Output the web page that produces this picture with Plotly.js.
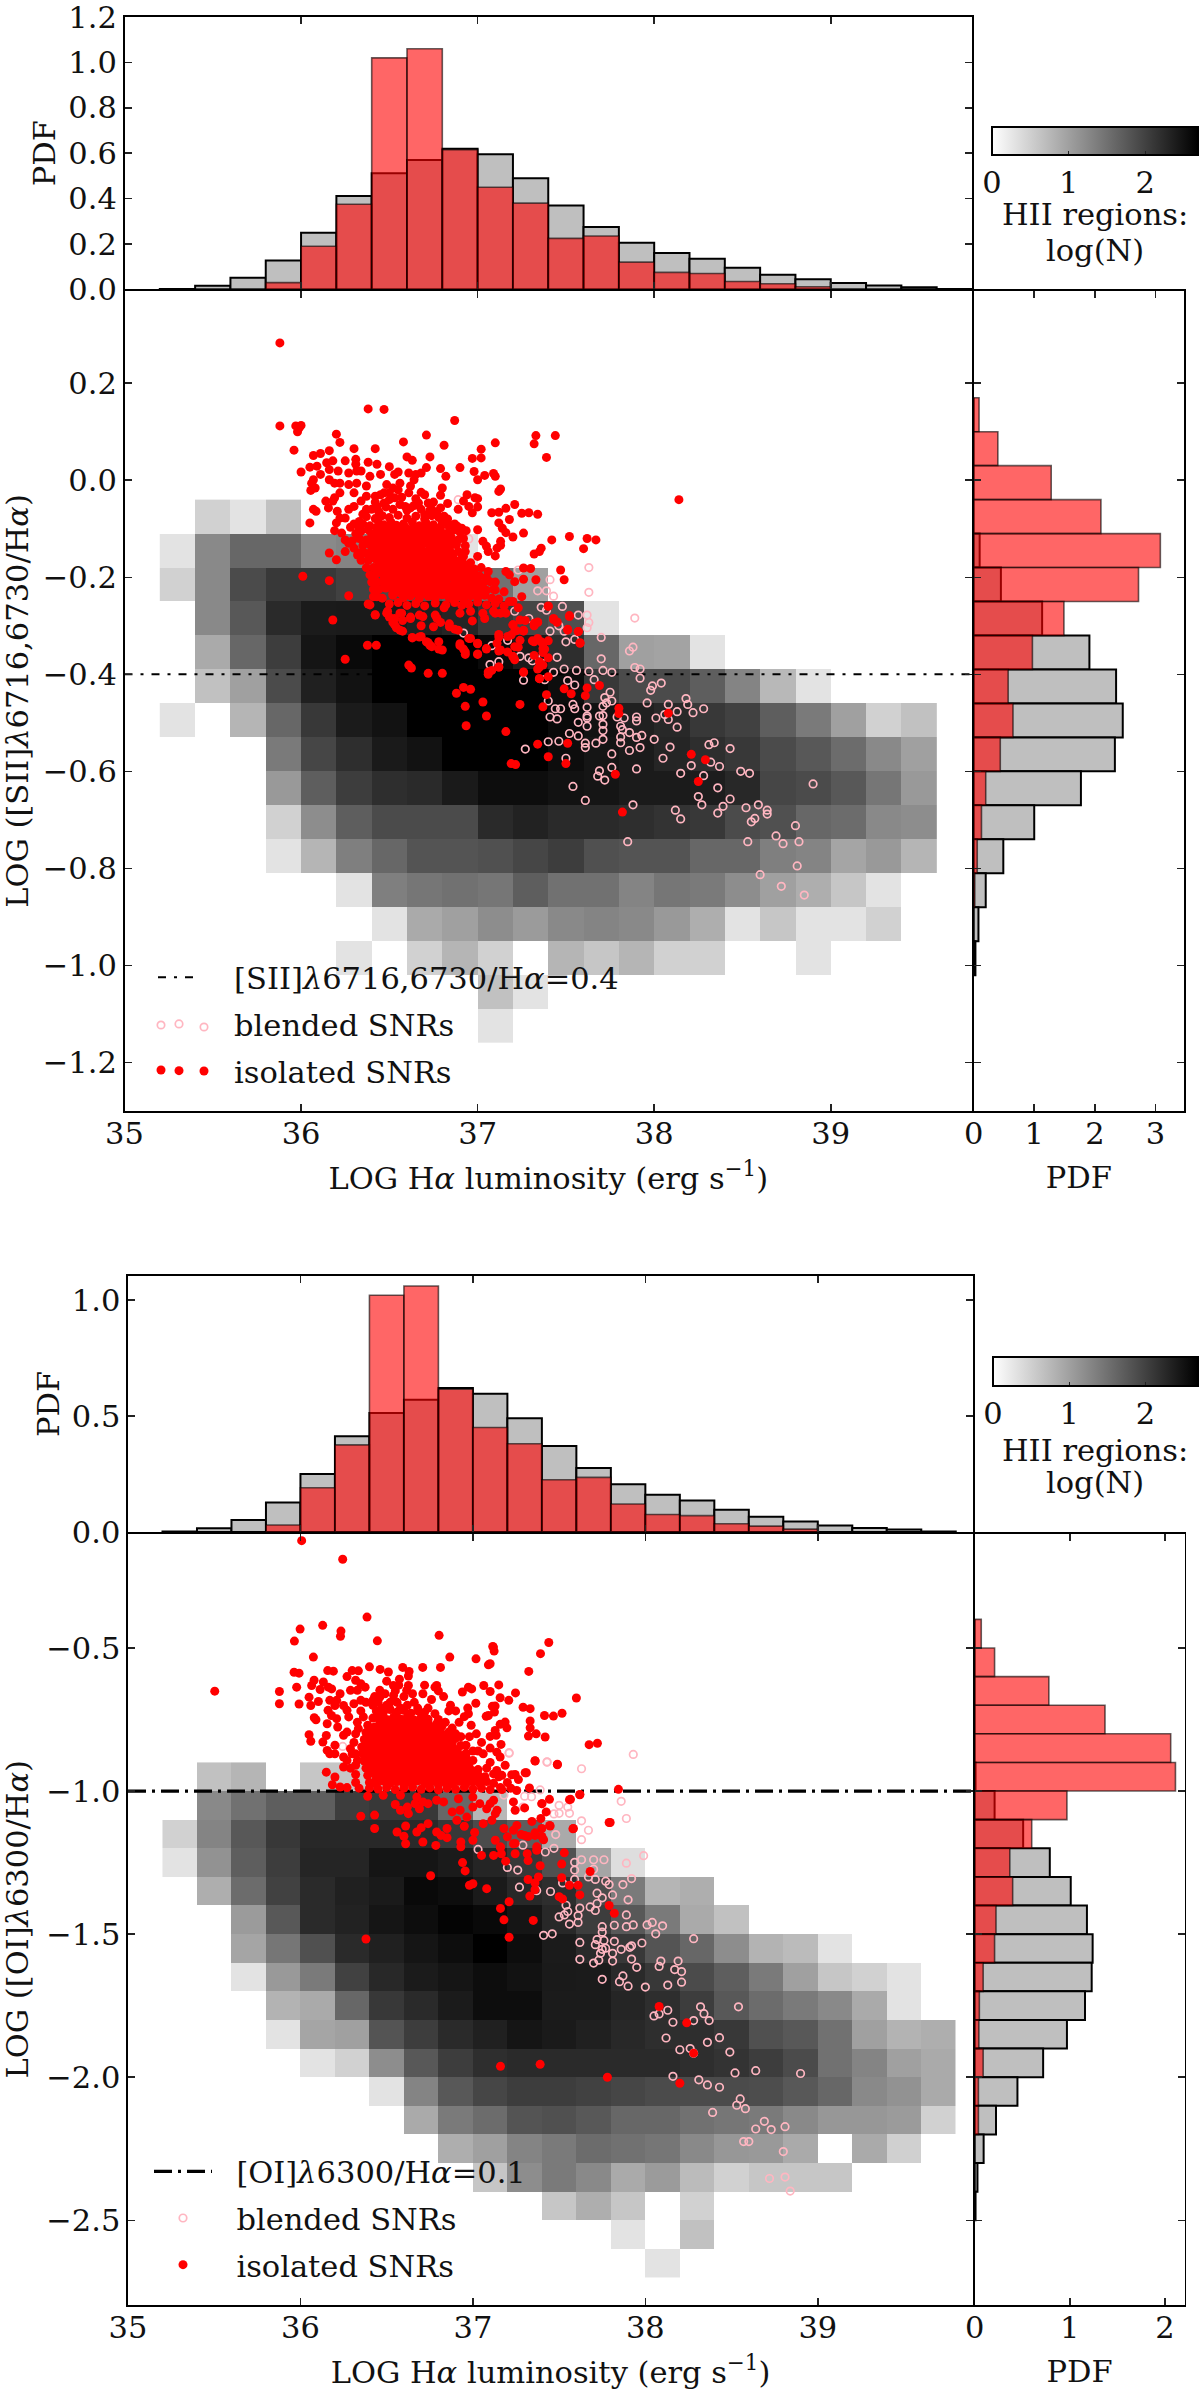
<!DOCTYPE html>
<html><head><meta charset="utf-8"><script src="https://cdn.plot.ly/plotly-3.0.1.min.js"></script>
<style>html,body{margin:0;padding:0;background:#fff}#c{width:1200px;height:2394px}</style></head>
<body><div id="c"></div><script>
const heatX1=[35.2,35.4,35.6,35.8,36,36.2,36.4,36.6,36.8,37,37.2,37.4,37.6,37.8,38,38.2,38.4,38.6,38.8,39,39.2,39.4,39.6];
const heatY1=[-0.04,-0.11,-0.18,-0.25,-0.32,-0.39,-0.46,-0.53,-0.60,-0.67,-0.74,-0.81,-0.88,-0.95,-1.02,-1.09,-1.16];
const n=null;
const heatZ1=[
[n,.48,.3,.65,n,n,n,n,n,n,n,n,n,n,n,n,n,n,n,n,n,n],
[.3,1.25,1.6,1.6,1.25,1.3,1,.85,.3,n,n,n,n,n,n,n,n,n,n,n,n,n],
[.48,1.25,1.9,2.1,2.1,2,1.9,1.8,1.7,1.5,1,n,n,n,n,n,n,n,n,n,n,n],
[n,1.25,1.76,2.25,2.4,2.42,2.42,2.35,2.3,2.1,1.95,1.85,.3,n,n,n,n,n,n,n,n,n],
[n,.9,1.6,2.05,2.47,2.6,2.69,2.69,2.69,2.6,2.42,2.2,1.6,1,.97,.3,n,n,n,n,n,n],
[n,.65,1,1.9,2.35,2.5,2.69,2.69,2.69,2.69,2.69,2.55,2.1,1.9,1.9,1.7,1.3,.75,.3,n,n,n],
[.3,n,.78,1.6,2.1,2.4,2.5,2.69,2.69,2.69,2.69,2.6,2.5,2.35,2.27,2.1,2,1.7,1.4,1,.48,.65],
[n,n,n,1.4,1.95,2.2,2.42,2.5,2.69,2.69,2.69,2.55,2.47,2.4,2.3,2.2,2.1,1.9,1.76,1.55,1.25,1],
[n,n,n,1.08,1.7,2.05,2.2,2.25,2.42,2.55,2.55,2.5,2.47,2.4,2.4,2.38,2.27,1.95,1.9,1.76,1.45,1.08],
[n,n,n,.48,1.2,1.7,1.9,1.9,1.9,2.25,2.33,2.25,2.25,2.2,2.15,2.1,1.9,1.85,1.6,1.55,1.25,1.2],
[n,n,n,.3,.78,1.35,1.6,1.8,1.8,1.85,1.95,2.05,1.85,1.8,1.8,1.6,1.6,1.35,1.3,.95,1.08,.78],
[n,n,n,n,n,.3,1.35,1.45,1.5,1.45,1.7,1.5,1.5,1.3,1.45,1.4,1.2,1,.85,.6,.3,n],
[n,n,n,n,n,n,.3,.9,1,1.2,1.05,1.25,1.3,1.25,1.08,.85,.3,.6,.3,.3,.48,n],
[n,n,n,n,n,.3,n,.48,.78,.48,n,.78,.6,.78,.48,.48,n,n,.3,n,n,n],
[n,n,n,n,n,n,n,n,n,.65,.3,n,n,n,n,n,n,n,n,n,n,n],
[n,n,n,n,n,n,n,n,n,.3,n,n,n,n,n,n,n,n,n,n,n,n]];
const heatX2=[35.2,35.4,35.6,35.8,36,36.2,36.4,36.6,36.8,37,37.2,37.4,37.6,37.8,38,38.2,38.4,38.6,38.8,39,39.2,39.4,39.6,39.8];
const heatY2=[-0.9,-1,-1.1,-1.2,-1.3,-1.4,-1.5,-1.6,-1.7,-1.8,-1.9,-2,-2.1,-2.2,-2.3,-2.4,-2.5,-2.6,-2.7];
const heatZ2=[
[n,.65,.78,n,.6,.6,.65,.8,.6,n,n,n,n,n,n,n,n,n,n,n,n,n,n],
[n,1.25,1.5,1.7,1.7,2.05,2.1,2.1,1.6,.75,n,n,n,n,n,n,n,n,n,n,n,n,n],
[.48,1.3,1.76,2.1,2.27,2.27,2.27,2.25,2.1,1.9,1.7,.9,n,n,n,n,n,n,n,n,n,n,n],
[.3,1.15,1.7,2.05,2.3,2.3,2.47,2.47,2.4,2.3,2.1,1.85,.95,.35,n,n,n,n,n,n,n,n,n],
[n,.85,1.55,2,2.25,2.35,2.42,2.6,2.55,2.42,2.27,2.2,1.9,1.4,.78,.85,n,n,n,n,n,n,n],
[n,n,1.05,1.76,2.25,2.33,2.47,2.55,2.65,2.6,2.47,2.27,2.05,1.76,1.4,.9,.65,n,n,n,n,n,n],
[n,n,.95,1.45,1.85,2.25,2.35,2.47,2.55,2.69,2.55,2.4,2.25,2.1,1.8,1.6,1.2,.8,.72,.3,n,n,n],
[n,n,.3,1.08,1.4,2,2.27,2.4,2.47,2.55,2.5,2.42,2.4,2.25,2.1,1.9,1.7,1.4,1,.6,.48,.3,n],
[n,n,n,.8,.9,1.6,2.1,2.25,2.4,2.55,2.55,2.4,2.4,2.3,2.2,2.05,1.76,1.55,1.4,1.25,.9,.3,n],
[n,n,n,.3,.95,1,1.8,2.05,2.25,2.35,2.47,2.42,2.35,2.27,2.2,2.2,2.1,1.85,1.76,1.5,1,.8,.85],
[n,n,n,n,.3,.48,1.2,1.76,2.05,2.2,2.25,2.25,2.25,2.25,2.25,2.2,2.15,2.05,1.9,1.5,1.3,1,.9],
[n,n,n,n,n,n,.3,1.3,1.76,1.95,2.05,2.05,2,1.95,1.9,1.9,1.9,1.88,1.76,1.6,1.25,1.15,.9],
[n,n,n,n,n,n,n,.9,1.4,1.55,1.8,1.85,1.76,1.6,1.6,1.5,1.45,1.4,1.25,1.1,1.1,1.05,.48],
[n,n,n,n,n,n,n,n,.85,1,1.3,1.4,1.55,1.5,1.45,1.25,1.1,1.08,.9,n,.9,.5,n],
[n,n,n,n,n,n,n,n,n,.6,1.2,1.4,1.25,.9,1.05,.72,.48,.6,.6,.6,n,n,n],
[n,n,n,n,n,n,n,n,n,n,n,.6,.85,.6,n,.48,n,n,n,n,n,n,n],
[n,n,n,n,n,n,n,n,n,n,n,n,n,.3,n,.65,n,n,n,n,n,n,n],
[n,n,n,n,n,n,n,n,n,n,n,n,n,n,.3,n,n,n,n,n,n,n,n]];
const lumBins=[35.2,35.4,35.6,35.8,36,36.2,36.4,36.6,36.8,37,37.2,37.4,37.6,37.8,38,38.2,38.4,38.6,38.8,39,39.2,39.4,39.6];
const lumHII=[.002,.016,.051,.127,.25,.412,.512,.57,.62,.595,.49,.37,.275,.205,.16,.135,.095,.065,.045,.028,.017,.01,.002];
const lumSNR=[0,0,0,.03,.19,.375,1.02,1.06,.615,.45,.38,.225,.235,.12,.075,.07,.035,.025,.012,0,0,0,0];
const siiBins=[.17,.10,.03,-.04,-.11,-.18,-.25,-.32,-.39,-.46,-.53,-.60,-.67,-.74,-.81,-.88,-.95];
const siiHII=[0,0,0,0,.10,.45,1.13,1.91,2.35,2.46,2.33,1.77,1,.49,.2,.08,.03];
const siiSNR=[.09,.40,1.28,2.10,3.08,2.72,1.49,.97,.57,.65,.44,.2,.13,.06,.02,0,0];
const oiBins=[-.4,-.5,-.6,-.7,-.8,-.9,-1,-1.1,-1.2,-1.3,-1.4,-1.5,-1.6,-1.7,-1.8,-1.9,-2,-2.1,-2.2,-2.3,-2.4];
const oiHII=[0,0,0,0,0,.01,.21,.51,.79,1.01,1.18,1.24,1.23,1.16,.97,.72,.45,.225,.095,.03,.01];
const oiSNR=[.07,.21,.78,1.37,2.06,2.11,.97,.6,.37,.40,.225,.21,.09,.05,.045,.09,.04,.04,0,0,0];
const isoSII=[[35.88,.283],[35.88,.112],[35.97,.112],[35.99,.108],[36,.113],[35.98,.1],[36.38,.147],[36.47,.146],[36.87,.123],[36.2,.095],[36.22,.078],[35.96,.062],[36.3,.065],[36.16,.061],[36.42,.065],[36.58,.079],[36.71,.093],[36.81,.072],[37.1,.077],[37.02,.064],[36.97,.045],[37.02,.046],[37.33,.092],[37.32,.075],[37.44,.092],[37.39,.047],[36.6,.048],[36.63,.041],[36.73,.048],[36.9,.026],[36.79,.024],[36.82,.008],[36,.017],[36.07,.051],[36.11,.055],[36.05,.027],[36.25,.04],[36.31,.043],[36.31,.033],[36.38,.037],[36.43,.033],[36.5,.028],[36.55,.017],[36.98,.018],[37,.001],[37.04,.01],[37.09,.014],[37.1,.008],[37.13,-.018],[37.12,-.023],[36.94,-.03],[37,-.038],[36.79,-.031],[36.8,-.016],[36.68,-.025],
[36.09,.029],[36.145,.036],[36.18,.04],[36.16,.022],[36.21,.019],[36.07,.001],[36.11,.012],[36.06,-.006],[36.08,-.016],[36.055,-.021],[36.16,.001],[36.19,-.006],[36.22,-.006],[36.27,.015],[36.315,.019],[36.34,.019],[36.39,.008],[36.45,.012],[36.53,.012],[36.61,.015],[36.65,.012],[36.68,.015],[36.71,.026],[36.64,.001],[36.485,-.009],[36.52,-.016],[36.37,-.012],[36.315,-.006],[36.27,-.009],[36.22,-.026],[36.19,-.036],[36.18,-.043],[36.14,-.043],[36.155,-.057],[36.07,-.06],[36.085,-.064],[36.05,-.088],[36.205,-.064],[36.22,-.078],[36.25,-.078],[36.2,-.088],[36.27,-.06],[36.3,-.054],[36.28,-.097],[36.23,-.109],[36.19,-.104],[36.34,-.043],[36.37,-.033],[36.42,-.033],[36.47,-.026],[36.47,-.047],[36.53,-.036],[36.61,-.026],[36.62,-.057],[36.665,-.047],[36.72,-.047],[36.75,-.045],[36.83,-.048],[36.79,-.057],[36.7,-.071],[36.81,-.074],[36.835,-.094],[36.885,-.095],[36.91,-.099],[36.935,-.104],[36.89,-.06],[36.92,-.043],[36.95,-.054],[36.97,-.067],[37,-.055],[36.985,-.036],[36.5,-.026],[36.56,-.006],[36.59,-.054],[36.43,-.054],[36.37,-.06],[36.3,-.026],[36.16,-.15],[36.2,-.164],[36.25,-.147],[36.32,-.154],[36.27,-.13],[36.25,-.123],[36.33,-.099],
[37.08,-.067],[37.12,-.066],[37.16,-.058],[37.21,-.05],[37.25,-.068],[37.29,-.067],[37.34,-.07],[37.18,-.081],[37.12,-.088],[37.14,-.099],[37.16,-.108],[37.2,-.117],[37.26,-.109],[37.13,-.126],[37.13,-.134],[37.11,-.14],[37.1,-.156],[37.05,-.136],[37.03,-.126],[37,-.102],[37.06,-.147],[37.42,-.123],[37.52,-.116],[37.62,-.12],[37.67,-.123],[37.6,-.141],[37.36,-.14],[37.35,-.147],[37.32,-.152],[37.47,-.185],[37.49,-.205],[37.33,-.205],[37.26,-.181],[37.3,-.182],[37.16,-.188],[37.18,-.195],[37.06,-.188],[37,-.157],[36.93,-.147],[36.92,-.157],[37.15,-.23],[37.1,-.226],[37.26,-.204],[37.21,-.209],[37.25,-.24],[37.2,-.25],[37.4,-.26],[37.52,-.281],[37.43,-.287],[37.45,-.292],[37.32,-.295],[37.34,-.292],[37.51,-.309],[37.57,-.312],[37.58,-.336],[37.4,-.331],[37.36,-.333],[37.37,-.347],[37.34,-.326],[37.31,-.331],[37.26,-.309],[37.22,-.31],[37.19,-.319],[37.2,-.364],[37.12,-.323],[37.11,-.336],[37.13,-.35],[37.17,-.354],[37.21,-.343],[37.24,-.288],[37.2,-.298],[37.32,-.361],[37.35,-.374],[37.35,-.385],[37.26,-.395],[37.35,-.409],[37.4,-.405],[37.12,-.385],[37.06,-.395],[37.05,-.347],[37,-.358],[37,-.336],[36.95,-.326],
[36.38,-.255],[36.42,-.277],[36.485,-.274],[36.53,-.285],[36.57,-.274],[36.62,-.285],[36.53,-.298],[36.56,-.309],[36.63,-.325],[36.67,-.323],[36.72,-.335],[36.74,-.343],[36.78,-.333],[36.8,-.35],[36.9,-.341],[36.93,-.354],[36.69,-.281],[36.77,-.285],[36.84,-.302],[36.75,-.302],[36.89,-.309],[36.97,-.29],[37.04,-.285],[37.1,-.274],[37.16,-.274],
[36.01,-.198],[36.16,-.207],[36.27,-.238],[36.18,-.288],[36.376,-.34],[36.426,-.34],[36.25,-.369],[36.61,-.381],[36.625,-.387],[36.72,-.398],[36.8,-.398],[36.92,-.427],[36.96,-.431],[36.88,-.439],[36.93,-.466],[37.03,-.457],[37.05,-.486],[36.935,-.506],[37.24,-.462],[37.16,-.518],[37.37,-.467],[37.39,-.442],[37.53,-.44],[37.62,-.428],[37.69,-.423],[37.49,-.43],[37.61,-.444],[37.8,-.47],[37.8,-.481],[38.08,-.48],[37.34,-.544],[37.51,-.542],[37.4,-.57],[37.5,-.584],[37.19,-.584],[37.215,-.586],[37.78,-.606],[37.82,-.684],[38.21,-.565],[38.29,-.576],[38.25,-.621],[38.14,-.04],
[36.39,-.257],[36.42,-.278],[36.49,-.27],[36.5,-.282],[36.52,-.293],[36.56,-.274],[36.575,-.289],[36.54,-.304],[36.575,-.311],[36.62,-.282],[36.67,-.278],[36.68,-.3],[36.63,-.324],[36.68,-.322],[36.71,-.333],[36.73,-.34],[36.78,-.348],[36.9,-.337],[36.92,-.348],[36.96,-.326],[36.93,-.359],[37,-.337],[37,-.359],[37.05,-.348],[37.12,-.352],[36.79,-.293],[36.84,-.296],[36.87,-.307],[36.76,-.278],[36.81,-.263],[36.9,-.274],[36.96,-.27],[37.03,-.274],[37.09,-.27],[37.13,-.274],[37.23,-.263],[37.2,-.298],[37.21,-.311],[37.27,-.289],[37.32,-.3],[37.34,-.293],[37.4,-.259],[37.43,-.285],[37.45,-.293],[37.52,-.279],[37.57,-.312],[37.51,-.307],[37.58,-.335],[37.12,-.318],[37.17,-.322],[37.26,-.311],[37.24,-.33],[37.23,-.344],[37.32,-.333],[37.37,-.337],[37.38,-.348],[37.37,-.355],[37.4,-.366],[37.37,-.381],[37.34,-.389],[37.26,-.396],[37.35,-.409],[37.2,-.363],[37.21,-.37],[37.06,-.4],[37.12,-.385],[37.08,-.392],
[36.4,-.06],[36.44,-.065],[36.48,-.055],[36.52,-.06],[36.56,-.05],[36.6,-.062],[36.64,-.052],[36.68,-.06],[36.73,-.062],[36.77,-.065],[36.35,-.07],[36.42,-.045],[36.5,-.04],[36.57,-.035],[36.65,-.038],[36.7,-.03],[36.74,-.06],[36.45,-.03],[36.55,-.02],[36.62,-.012],[36.33,-.085],[36.3,-.09],[36.31,-.11],[36.29,-.125],[36.3,-.14],[36.33,-.15],[36.34,-.165],[36.37,-.18],[36.39,-.195],[36.4,-.21],[36.41,-.225],[36.41,-.24],[36.83,-.08],[36.87,-.09],[36.92,-.12],[36.93,-.135],[36.91,-.15],[36.9,-.165],[36.96,-.17],[37.02,-.18],[37.05,-.2],[37.1,-.21],[37.09,-.225],[37.12,-.245],[37.18,-.25],
[36.37,-.075],[36.42,-.079],[36.46,-.073],[36.5,-.077],[36.55,-.072],[36.6,-.078],[36.65,-.074],[36.7,-.08],[36.74,-.073],[36.78,-.077],
[36.35,-.09],[36.39,-.094],[36.44,-.088],[36.47,-.092],[36.51,-.087],[36.54,-.093],[36.58,-.09],[36.63,-.086],[36.67,-.094],[36.71,-.089],[36.75,-.092],[36.8,-.087],[36.85,-.093],
[36.34,-.105],[36.38,-.102],[36.42,-.108],[36.45,-.104],[36.49,-.109],[36.52,-.103],[36.56,-.107],[36.6,-.102],[36.63,-.108],[36.67,-.105],[36.71,-.101],[36.75,-.107],[36.79,-.104],[36.83,-.109],[36.87,-.102],[36.9,-.107],
[36.33,-.12],[36.37,-.123],[36.41,-.117],[36.44,-.122],[36.48,-.118],[36.51,-.124],[36.55,-.119],[36.59,-.122],[36.62,-.116],[36.66,-.123],[36.7,-.12],[36.73,-.125],[36.77,-.118],[36.81,-.122],[36.85,-.117],[36.89,-.123],
[36.35,-.135],[36.39,-.132],[36.42,-.138],[36.46,-.134],[36.5,-.139],[36.53,-.133],[36.57,-.137],[36.61,-.132],[36.64,-.138],[36.68,-.135],[36.72,-.131],[36.76,-.137],[36.8,-.134],[36.84,-.139],[36.88,-.133],
[36.36,-.15],[36.4,-.153],[36.44,-.147],[36.47,-.152],[36.51,-.148],[36.55,-.154],[36.59,-.149],[36.63,-.152],[36.66,-.146],[36.7,-.153],[36.74,-.15],[36.78,-.155],[36.82,-.148],[36.86,-.152],[36.89,-.147],
[36.38,-.165],[36.42,-.162],[36.45,-.168],[36.49,-.164],[36.52,-.169],[36.56,-.163],[36.6,-.167],[36.64,-.162],[36.68,-.168],[36.71,-.165],[36.75,-.161],[36.79,-.167],[36.83,-.164],[36.87,-.169],
[36.41,-.18],[36.44,-.183],[36.48,-.177],[36.52,-.182],[36.55,-.178],[36.59,-.184],[36.62,-.179],[36.66,-.182],[36.7,-.176],[36.74,-.183],[36.78,-.18],[36.82,-.185],[36.86,-.178],[36.9,-.182],[36.94,-.177],[36.98,-.183],
[36.42,-.195],[36.46,-.192],[36.5,-.198],[36.53,-.194],[36.57,-.199],[36.61,-.193],[36.65,-.197],[36.69,-.192],[36.73,-.198],[36.77,-.195],[36.81,-.191],[36.85,-.197],[36.89,-.194],[36.93,-.199],[36.97,-.193],[37.01,-.197],
[36.43,-.21],[36.47,-.213],[36.51,-.207],[36.55,-.212],[36.58,-.208],[36.62,-.214],[36.66,-.209],[36.7,-.212],[36.74,-.206],[36.78,-.213],[36.82,-.21],[36.87,-.215],[36.91,-.208],[36.95,-.212],[36.99,-.207],[37.03,-.213],[37.07,-.209],
[36.44,-.225],[36.48,-.222],[36.53,-.228],[36.57,-.224],[36.61,-.229],[36.65,-.223],[36.69,-.227],[36.73,-.222],[36.77,-.228],[36.81,-.225],[36.85,-.221],[36.89,-.227],[36.93,-.224],[36.97,-.229],[37.01,-.223],[37.05,-.227],
[36.43,-.24],[36.46,-.243],[36.52,-.237],[36.58,-.242],[36.62,-.238],[36.67,-.244],[36.72,-.239],[36.76,-.242],[36.8,-.236],[36.84,-.243],[36.88,-.24],[36.92,-.245],[36.96,-.238],[37,-.242],[37.04,-.237],[37.08,-.243],
[36.5,-.255],[36.55,-.252],[36.6,-.258],[36.65,-.254],[36.7,-.259],[36.76,-.253],[36.82,-.257],[36.87,-.252],[36.91,-.258],[36.95,-.255],[37,-.251],[37.05,-.257],[37.1,-.254],[37.15,-.259],
[36.43,-.097],[36.47,-.1],[36.51,-.096],[36.55,-.099],[36.59,-.097],[36.63,-.1],[36.67,-.098],[36.71,-.096],[36.75,-.1],[36.79,-.097],
[36.4,-.112],[36.44,-.113],[36.48,-.111],[36.52,-.114],[36.56,-.112],[36.6,-.113],[36.64,-.111],[36.68,-.114],[36.72,-.112],[36.76,-.113],[36.8,-.111],[36.84,-.113],
[36.38,-.128],[36.42,-.129],[36.46,-.127],[36.5,-.13],[36.54,-.128],[36.58,-.129],[36.62,-.127],[36.66,-.13],[36.7,-.128],[36.74,-.129],[36.78,-.127],[36.82,-.13],[36.86,-.128],
[36.4,-.143],[36.44,-.142],[36.48,-.144],[36.52,-.142],[36.56,-.144],[36.6,-.142],[36.64,-.144],[36.68,-.143],[36.72,-.145],[36.76,-.142],[36.8,-.144],[36.84,-.143],
[36.42,-.158],[36.46,-.157],[36.5,-.159],[36.54,-.157],[36.58,-.159],[36.62,-.157],[36.66,-.159],[36.7,-.158],[36.74,-.16],[36.78,-.157],[36.82,-.159],[36.86,-.158],
[36.44,-.173],[36.48,-.172],[36.52,-.174],[36.56,-.172],[36.6,-.174],[36.64,-.172],[36.68,-.174],[36.72,-.173],[36.76,-.175],[36.8,-.172],[36.84,-.174],[36.88,-.173],[36.92,-.172],
[36.46,-.188],[36.5,-.187],[36.54,-.189],[36.58,-.187],[36.62,-.189],[36.66,-.187],[36.7,-.189],[36.74,-.188],[36.78,-.19],[36.82,-.187],[36.86,-.189],[36.9,-.188],[36.94,-.187],[36.98,-.189],
[36.47,-.203],[36.51,-.202],[36.55,-.204],[36.59,-.202],[36.63,-.204],[36.67,-.202],[36.71,-.204],[36.75,-.203],[36.79,-.205],[36.83,-.202],[36.87,-.204],[36.91,-.203],[36.95,-.202],[36.99,-.204],
[36.5,-.218],[36.54,-.217],[36.58,-.219],[36.62,-.217],[36.66,-.219],[36.7,-.217],[36.74,-.219],[36.78,-.218],[36.82,-.22],[36.86,-.217],[36.9,-.219],[36.94,-.218],[36.98,-.217],[37.02,-.219],
[36.52,-.233],[36.56,-.232],[36.6,-.234],[36.64,-.232],[36.68,-.234],[36.72,-.232],[36.76,-.234],[36.8,-.233],[36.84,-.235],[36.88,-.232],[36.92,-.234],[36.96,-.233],[37,-.232]];
const bldSII=[[36.89,-.04],[36.95,-.121],[37.63,-.18],[37.63,-.231],[37.41,-.205],[37.34,-.228],[37.39,-.228],[37.43,-.239],[37.23,-.185],[37.89,-.284],[37.48,-.26],[37.36,-.262],[37.21,-.27],[37.39,-.268],[37.29,-.285],[37.62,-.304],[37.63,-.293],[37.62,-.278],[37.57,-.278],[37.49,-.311],[37.55,-.328],[37.5,-.333],[37.7,-.324],[37.41,-.311],[37.46,-.3],[37.88,-.344],[37.86,-.352],[37.7,-.368],[37.45,-.365],[37.37,-.363],[37.24,-.363],[37.31,-.372],[37.29,-.366],[37.17,-.33],[37.08,-.341],[36.92,-.315],[37.07,-.38],[37.12,-.374],[37.89,-.386],[37.92,-.389],[37.92,-.408],[37.76,-.396],[37.71,-.392],[37.63,-.394],[37.56,-.392],[37.49,-.389],[37.43,-.396],[37.38,-.411],[37.26,-.412],[37.51,-.413],[37.55,-.422],[37.66,-.411],[37.4,-.455],[37.44,-.471],[37.47,-.471],[37.54,-.462],[37.55,-.471],[37.62,-.468],[37.71,-.466],[37.72,-.448],[37.73,-.459],[37.76,-.455],[37.75,-.437],[37.99,-.424],[37.98,-.433],[38.04,-.418],[37.96,-.459],[38.08,-.462],[38.18,-.45],[38.19,-.462],[38.13,-.477],[38.22,-.479],[38.28,-.471],[38.08,-.493],[38.01,-.49],[38.06,-.483],[38.13,-.509],[37.83,-.49],[37.9,-.488],[37.9,-.496],[37.81,-.507],[37.82,-.514],[37.79,-.488],[37.71,-.485],[37.69,-.486],[37.62,-.486],[37.62,-.49],[37.57,-.499],[37.62,-.507],[37.71,-.503],[37.71,-.516],[37.41,-.488],[37.45,-.492],[37.52,-.522],[37.57,-.527],[37.71,-.534],[37.86,-.52],[37.93,-.526],[37.9,-.53],[37.81,-.529],[37.81,-.541],[38,-.534],[37.67,-.542],[37.61,-.542],[37.61,-.551],[37.46,-.538],[37.4,-.539],[37.27,-.554],[37.92,-.551],[37.86,-.557],[37.76,-.564],[38.09,-.55],[38.05,-.573],[38.31,-.545],[38.34,-.541],[38.43,-.553],[37.5,-.573],[37.9,-.595],[37.76,-.592],[37.69,-.599],[37.68,-.61],[37.72,-.618],[38.21,-.588],[38.32,-.581],[38.37,-.59],[38.15,-.604],[38.28,-.609],[37.54,-.631],[37.61,-.66],[37.88,-.669],[38.36,-.634],[38.25,-.652],[38.27,-.669],[38.43,-.657],[38.39,-.672],[38.36,-.686],[38.49,-.6],[38.54,-.604],[38.9,-.626],[38.52,-.675],[38.59,-.669],[38.64,-.68],[38.64,-.688],[38.12,-.68],[38.15,-.698],[38.57,-.697],[38.55,-.704],[38.8,-.712],[37.85,-.745],[38.53,-.745],[38.69,-.733],[38.73,-.749],[38.82,-.745],[38.81,-.795],[38.6,-.813],[38.72,-.837],[38.85,-.855]];
const isoOI=[[36.007,-.125],[36.245,-.19],[35.503,-.651],[36.386,-.392],[36.129,-.421],[35.998,-.434],[35.965,-.476],[36.235,-.441],[36.232,-.459],[36.446,-.475],[36.804,-.456],[36.075,-.532],[37.119,-.497],[37.115,-.495],[37.123,-.511],[37.44,-.481],[37.392,-.52],[36.866,-.532],[37.018,-.538],[37.1,-.555],[37.09,-.559],[37.324,-.582],[35.963,-.585],[35.992,-.588],[36.158,-.579],[36.191,-.581],[36.3,-.579],[36.336,-.58],[36.4,-.566],[36.462,-.575],[36.51,-.584],[36.593,-.568],[36.63,-.582],[36.626,-.598],[36.709,-.568],[36.812,-.568],[35.878,-.652],[35.878,-.695],[35.978,-.637],[35.992,-.696],[36.065,-.631],[36.079,-.613],[36.114,-.645],[36.133,-.619],[36.162,-.637],[36.181,-.643],[36.05,-.672],[36.06,-.701],[36.104,-.687],[36.574,-.609],[36.5,-.616],[36.539,-.631],[36.79,-.631],[36.78,-.637],[36.626,-.631],[36.616,-.648],[36.939,-.654],[36.974,-.637],[36.993,-.643],[37.063,-.631],[37.15,-.629],[37.1,-.652],[37.247,-.657],[37.158,-.674],[37.208,-.683],[37.017,-.693],[36.974,-.73],[37.113,-.704],[37.129,-.703],[37.125,-.724],[37.09,-.736],[37.077,-.739],[37.291,-.707],[37.332,-.712],[37.415,-.736],[37.467,-.738],[37.517,-.728],[37.6,-.675],[37.332,-.755],[37.158,-.767],[37.187,-.759],[37.197,-.779],[37.129,-.788],[37.1,-.809],[37.135,-.805],[37.332,-.779],[37.322,-.808],[37.367,-.8],[37.419,-.811],[37.163,-.837],[37.1,-.85],[37.139,-.864],[37.674,-.838],[37.722,-.833],[37.361,-.895],[37.49,-.908],[37.158,-.881],[37.187,-.91],[37.303,-.936],[37.225,-.943],[37.264,-.96],[37.138,-.928],[37.168,-.945],[37.328,-.989],[37.254,-.998],[37.168,-.995],[37.844,-.994],[37.62,-1.013],[37.444,-1.029],[37.566,-1.029],[37.4,-1.044],[37.3,-1.059],[37.425,-1.073],[37.235,-1.038],[37.245,-1.067],[37.796,-1.11],[37.583,-1.131],[37.448,-1.122],[37.394,-1.096],[37.342,-1.106],
[36.15,-.934],[36.2,-.951],[36.185,-.978],[36.23,-.986],[36.27,-.988],[36.32,-.942],[36.25,-.916],[36.29,-.852],[36.32,-.87],[36.27,-.893],[36.25,-.881],[36.33,-.893],[36.32,-.91],[36.155,-.858],[36.17,-.87],[36.2,-.87],[36.2,-.84],[36.15,-.806],[36.13,-.829],[36.05,-.803],[36.06,-.826],[36.08,-.744],[36.09,-.751],[36.155,-.765],[36.216,-.776],[36.27,-.794],[36.25,-.805],[36.16,-.718],[36.18,-.736],[36.21,-.747],[36.27,-.718],[36.28,-.741],[36.31,-.695],[36.21,-.683],[36.23,-.66],[36.29,-.648],[36.33,-.648],[36.35,-.683],[36.375,-.637],[36.32,-.613],[36.35,-.625],[36.27,-.6],[36.46,-.648],[36.54,-.666],[36.46,-.672],[36.42,-.683],[36.365,-.741],[36.336,-.782],[36.385,-.811],[36.355,-.846],[36.25,-.701],[36.17,-.683],[36.2,-.701],
[36.35,-1.088],[36.43,-1.084],[36.43,-1.131],[36.56,-1.143],[36.61,-1.122],[36.6,-1.158],[36.61,-1.184],[36.71,-1.178],[36.675,-1.143],[36.7,-1.128],[36.74,-1.114],[36.79,-1.143],[36.85,-1.131],[36.85,-1.163],[36.815,-1.155],[36.785,-1.19],[36.93,-1.178],[36.93,-1.195],[37,-1.172],[36.95,-1.123],[37.01,-1.145],[37.06,-1.114],[37.11,-1.102],[37.13,-1.079],[37.18,-1.131],[37.2,-1.16],[37.13,-1.172],[37.235,-1.137],[37.255,-1.12],[37.3,-1.155],[37.36,-1.155],[37.41,-1.17],[37.4,-1.131],[37.235,-1.184],[37.16,-1.195],[37.37,-1.195],[36.55,-1.047],[36.58,-1.067],[36.62,-1.056],[36.626,-1.079],[36.665,-1.044],[36.69,-1.062],[36.71,-1.038],[36.74,-1.044],[36.79,-1.032],[36.83,-1.038],[36.88,-1.073],[36.907,-1.102],[36.965,-1.091],[36.926,-1.067],[37,-1.056],[37.04,-1.044],[37.08,-1.062],[37.1,-1.044],[37.14,-1.067],[37,-1.021],[36.916,-1.027],[36.48,-1.015],[36.39,-1.018],[36.58,-1.015],[36.675,-1.021],[37.12,-1.032],
[37.05,-1.225],[37.12,-1.225],[37.165,-1.219],[37.16,-1.197],[37.245,-1.219],[37.19,-1.245],[37.315,-1.219],[37.32,-1.243],[37.37,-1.207],[37.39,-1.261],[37.28,-1.152],[37.32,-1.159],[37.4,-1.159],[37.36,-1.146],[37.245,-1.183],[37.53,-1.216],[37.515,-1.255],[37.68,-1.281],[36.94,-1.25],[36.955,-1.279],[36.755,-1.296],[36.98,-1.329],[37,-1.324],[37.08,-1.341],[37.33,-1.367],[37.36,-1.345],[37.32,-1.309],[37.38,-1.3],[37.36,-1.321],[37.515,-1.303],[37.56,-1.329],[37.61,-1.329],[37.5,-1.369],[37.52,-1.377],[37.62,-1.363],[37.21,-1.387],[37.16,-1.41],[37.18,-1.45],[37.35,-1.452],[37.21,-1.511],[37.79,-1.4],[37.82,-1.427],[36.38,-1.517],[38.08,-1.753],[38.24,-1.81],[38.28,-1.916],[37.16,-1.962],[37.39,-1.955],[37.78,-2],[38.2,-2.021],[37.4,-1.044],[37.56,-1.03],[37.62,-1.012],[37.79,-1.11],[37.58,-1.132],[37.445,-1.12],[37.36,-.894],[37.49,-.906],[37.245,-.942],[37.31,-.936],
[36.45,-.69],[36.5,-.7],[36.56,-.69],[36.6,-.67],[36.66,-.69],[36.71,-.66],[36.76,-.68],[36.83,-.67],[36.87,-.7],[36.9,-.72],[36.95,-.74],[36.99,-.77],[36.97,-.71],[37.02,-.8],[37.05,-.83],[37.06,-.87],[36.98,-.81],[37.1,-.9],[37.15,-.95],
[36.42,-.7],[36.47,-.71],[36.52,-.69],[36.58,-.71],[36.62,-.7],[36.68,-.71],[36.74,-.71],[36.78,-.73],[36.8,-.75],[36.84,-.76],[36.88,-.78],[36.9,-.8],[36.93,-.81],[36.96,-.84],[37,-.86],[36.43,-.67],[36.49,-.66],[36.55,-.65],[36.65,-.66],[36.72,-.63],[36.8,-.65],[36.35,-.72],[36.33,-.76],[36.32,-.8],[36.31,-.83],[36.3,-.87],[36.29,-.92],[36.32,-.97],[36.34,-.99],[37,-.93],[37.08,-.92],[37.12,-.94],[37.2,-.97],[37.22,-.99],[36.86,-.72],[36.92,-.76],[37.03,-.86],[36.38,-.69],[36.57,-.63],
[36.44,-.72],[36.48,-.727],[36.52,-.715],[36.56,-.724],[36.6,-.718],[36.64,-.728],[36.68,-.72],[36.72,-.725],
[36.42,-.745],[36.46,-.738],[36.5,-.75],[36.54,-.742],[36.58,-.748],[36.62,-.74],[36.66,-.752],[36.7,-.743],[36.74,-.749],
[36.39,-.77],[36.43,-.776],[36.47,-.765],[36.51,-.772],[36.55,-.763],[36.59,-.775],[36.63,-.768],[36.67,-.778],[36.71,-.767],[36.75,-.773],[36.79,-.765],[36.82,-.774],
[36.38,-.795],[36.42,-.79],[36.46,-.801],[36.5,-.793],[36.54,-.799],[36.58,-.789],[36.62,-.797],[36.66,-.803],[36.7,-.792],[36.74,-.798],[36.78,-.79],[36.82,-.8],[36.86,-.794],
[36.37,-.82],[36.41,-.826],[36.45,-.815],[36.49,-.823],[36.53,-.817],[36.57,-.827],[36.61,-.82],[36.65,-.814],[36.69,-.824],[36.73,-.818],[36.77,-.828],[36.81,-.82],[36.85,-.825],[36.9,-.816],
[36.37,-.845],[36.41,-.84],[36.45,-.851],[36.49,-.843],[36.53,-.849],[36.57,-.839],[36.61,-.847],[36.65,-.853],[36.69,-.842],[36.73,-.848],[36.77,-.84],[36.81,-.85],[36.85,-.844],[36.89,-.852],[36.93,-.841],
[36.36,-.87],[36.4,-.876],[36.44,-.865],[36.48,-.873],[36.52,-.867],[36.56,-.877],[36.6,-.87],[36.64,-.864],[36.68,-.874],[36.72,-.868],[36.76,-.878],[36.8,-.87],[36.84,-.875],[36.88,-.866],[36.92,-.874],[36.96,-.868],
[36.37,-.895],[36.41,-.89],[36.45,-.901],[36.49,-.893],[36.53,-.899],[36.57,-.889],[36.61,-.897],[36.65,-.903],[36.69,-.892],[36.73,-.898],[36.77,-.89],[36.81,-.9],[36.85,-.894],[36.89,-.902],[36.93,-.891],[36.97,-.898],[37,-.893],
[36.38,-.92],[36.42,-.926],[36.46,-.915],[36.5,-.923],[36.54,-.917],[36.58,-.927],[36.62,-.92],[36.66,-.914],[36.7,-.924],[36.74,-.918],[36.78,-.928],[36.82,-.92],[36.86,-.925],[36.9,-.916],[36.94,-.924],[36.98,-.918],[37.03,-.925],
[36.39,-.945],[36.43,-.94],[36.47,-.951],[36.51,-.943],[36.55,-.949],[36.59,-.939],[36.63,-.947],[36.67,-.953],[36.71,-.942],[36.75,-.948],[36.79,-.94],[36.83,-.95],[36.87,-.944],[36.91,-.952],[36.95,-.941],[36.99,-.948],[37.03,-.943],[37.07,-.95],
[36.4,-.97],[36.44,-.976],[36.48,-.965],[36.52,-.973],[36.56,-.967],[36.6,-.977],[36.64,-.97],[36.68,-.964],[36.72,-.974],[36.76,-.968],[36.8,-.978],[36.84,-.97],[36.88,-.975],[36.92,-.966],[36.96,-.974],[37,-.968],[37.04,-.975],[37.08,-.967],[37.12,-.973],
[36.4,-.99],[36.45,-.993],[36.5,-.988],[36.55,-.995],[36.6,-.99],[36.65,-.986],[36.7,-.994],[36.75,-.989],[36.8,-.996],[36.85,-.99],[36.9,-.994],[36.95,-.987],[37,-.993],[37.05,-.99],[37.1,-.995],[37.16,-.988],
[36.46,-.757],[36.5,-.76],[36.54,-.756],[36.58,-.761],[36.62,-.757],[36.66,-.76],[36.7,-.756],[36.74,-.761],
[36.44,-.782],[36.48,-.785],[36.52,-.781],[36.56,-.786],[36.6,-.782],[36.64,-.785],[36.68,-.781],[36.72,-.786],[36.76,-.782],[36.8,-.785],
[36.42,-.807],[36.46,-.81],[36.5,-.806],[36.54,-.811],[36.58,-.807],[36.62,-.81],[36.66,-.806],[36.7,-.811],[36.74,-.807],[36.78,-.81],[36.82,-.806],[36.86,-.811],
[36.4,-.832],[36.44,-.835],[36.48,-.831],[36.52,-.836],[36.56,-.832],[36.6,-.835],[36.64,-.831],[36.68,-.836],[36.72,-.832],[36.76,-.835],[36.8,-.831],[36.84,-.836],[36.88,-.832],
[36.39,-.857],[36.43,-.86],[36.47,-.856],[36.51,-.861],[36.55,-.857],[36.59,-.86],[36.63,-.856],[36.67,-.861],[36.71,-.857],[36.75,-.86],[36.79,-.856],[36.83,-.861],[36.87,-.857],[36.91,-.86],
[36.4,-.882],[36.44,-.885],[36.48,-.881],[36.52,-.886],[36.56,-.882],[36.6,-.885],[36.64,-.881],[36.68,-.886],[36.72,-.882],[36.76,-.885],[36.8,-.881],[36.84,-.886],[36.88,-.882],[36.92,-.885],[36.96,-.881],
[36.41,-.907],[36.45,-.91],[36.49,-.906],[36.53,-.911],[36.57,-.907],[36.61,-.91],[36.65,-.906],[36.69,-.911],[36.73,-.907],[36.77,-.91],[36.81,-.906],[36.85,-.911],[36.89,-.907],[36.93,-.91],[36.97,-.906],
[36.42,-.932],[36.46,-.935],[36.5,-.931],[36.54,-.936],[36.58,-.932],[36.62,-.935],[36.66,-.931],[36.7,-.936],[36.74,-.932],[36.78,-.935],[36.82,-.931],[36.86,-.936],[36.9,-.932],[36.94,-.935],[36.98,-.931],[37.02,-.936],
[36.44,-.957],[36.48,-.96],[36.52,-.956],[36.56,-.961],[36.6,-.957],[36.64,-.96],[36.68,-.956],[36.72,-.961],[36.76,-.957],[36.8,-.96],[36.84,-.956],[36.88,-.961],[36.92,-.957],[36.96,-.96],[37,-.956],[37.04,-.961]];
const bldOI=[[36.245,-.844],[37.21,-.866],[37.43,-.899],[37.93,-.872],[37.63,-.922],[37.43,-.898],[37.21,-.868],[37.86,-1.036],[37.89,-1.096],[37.63,-1.104],[37.67,-1.137],[37.63,-1.17],[37.48,-1.152],[37.5,-1.05],[37.55,-1.056],[37.5,-1.078],[37.56,-1.078],[37.39,-.996],[37.3,-1.018],[37.34,-1.02],[37.29,-1.056],[37.47,-1.08],[37.18,-1.014],[37.29,-1.189],[37.47,-1.2],[37.42,-1.213],[37.03,-1.204],[37.99,-1.226],[37.89,-1.252],[37.76,-1.24],[37.7,-1.24],[37.63,-1.24],[37.59,-1.249],[37.7,-1.273],[37.59,-1.276],[37.59,-1.309],[37.67,-1.3],[37.71,-1.309],[37.77,-1.315],[37.79,-1.327],[37.92,-1.306],[37.87,-1.327],[37.52,-1.321],[37.45,-1.351],[37.72,-1.357],[37.75,-1.373],[37.81,-1.363],[37.9,-1.38],[37.72,-1.393],[37.68,-1.405],[37.71,-1.417],[37.54,-1.399],[37.55,-1.421],[37.62,-1.409],[37.53,-1.433],[37.5,-1.44],[37.56,-1.465],[37.61,-1.459],[37.61,-1.435],[37.89,-1.433],[37.82,-1.469],[37.89,-1.474],[37.93,-1.468],[38.01,-1.468],[38.04,-1.459],[38.1,-1.471],[38.06,-1.499],[37.75,-1.474],[37.75,-1.493],[37.41,-1.504],[37.46,-1.499],[37.62,-1.529],[37.72,-1.519],[37.76,-1.522],[37.71,-1.537],[37.75,-1.553],[37.74,-1.567],[37.77,-1.549],[37.82,-1.525],[37.91,-1.546],[37.92,-1.541],[37.98,-1.531],[37.86,-1.553],[38.28,-1.516],[37.81,-1.567],[37.62,-1.588],[37.73,-1.591],[37.7,-1.601],[37.81,-1.594],[37.92,-1.587],[37.95,-1.616],[38.09,-1.594],[38.08,-1.613],[38.19,-1.594],[38.17,-1.624],[38.21,-1.631],[37.75,-1.658],[37.87,-1.646],[37.85,-1.666],[37.9,-1.682],[38,-1.685],[38.13,-1.678],[38.21,-1.668],[37.26,-1.276],[37.2,-1.267],[37.27,-1.336],[37.37,-1.348],[38.13,-1.766],[38.05,-1.786],[38.08,-1.779],[38.16,-1.808],[38.32,-1.754],[38.34,-1.778],[38.28,-1.802],[38.37,-1.802],[38.54,-1.754],[38.12,-1.863],[38.43,-1.862],[38.36,-1.878],[38.2,-1.904],[38.26,-1.9],[38.28,-1.916],[38.49,-1.912],[38.16,-1.997],[38.31,-2.009],[38.36,-2.027],[38.43,-2.035],[38.52,-1.985],[38.64,-1.977],[38.9,-1.987],[38.55,-2.076],[38.53,-2.098],[38.58,-2.11],[38.39,-2.123],[38.69,-2.154],[38.64,-2.181],[38.73,-2.183],[38.81,-2.173],[38.57,-2.225],[38.6,-2.225],[38.8,-2.26],[38.72,-2.354],[38.81,-2.349],[38.84,-2.398]];
const siiLine=-0.4, oiLine=-1;
const siiLabel='\u00a0\u00a0\u00a0[SII]<i>λ</i>6716,6730/H<i>α</i>=0.4', oiLabel='\u00a0\u00a0[OI]<i>λ</i>6300/H<i>α</i>=0.1';
const lumTitle='LOG H<i>α</i> luminosity (erg s<sup>−1</sup>)';

const F='"DejaVu Serif",serif', FS=30.5, W=1200, H=2394;
const domX=(a,b)=>[a/W,b/W], domY=(t,b)=>[(H-b)/H,(H-t)/H];
const base={showline:true,linecolor:'#000',linewidth:1.6,mirror:'ticks',ticks:'inside',ticklen:7,tickwidth:1.5,tickcolor:'#222',ticklabeloverflow:'allow',
  showgrid:false,zeroline:false,automargin:false,fixedrange:true,tickfont:{family:F,size:FS,color:'#111'}};
const ax=(o)=>Object.assign({},base,o);
const tf=(t,so)=>({text:t,font:{family:F,size:FS,color:'#111'},standoff:so});
const cs=[[0,'#fff'],[1,'#000']];
function panel(i,cfg){
 const X=(n)=>'x'+(n===1?'':n), Y=(n)=>'y'+(n===1?'':n);
 const a=i*3+1,b=i*3+2,c=i*3+3, leg=i===0?'legend':'legend2', pad=cfg.pad;
 const trs=[];
 trs.push({type:'heatmap',x:cfg.hx,y:cfg.hy,z:cfg.hz,xaxis:X(a),yaxis:Y(a),colorscale:cs,zmin:0,zmax:2.69,hoverinfo:'skip',showscale:true,
  colorbar:{orientation:'h',x:cfg.cb[0]/W,xanchor:'left',len:(cfg.cb[1]-cfg.cb[0])/W,lenmode:'fraction',thickness:cfg.cb[3]-cfg.cb[2],thicknessmode:'pixels',
   y:(H-cfg.cb[2])/H,yanchor:'top',yref:'paper',xpad:0,ypad:0,outlinewidth:2,outlinecolor:'#000',tick0:0,dtick:1,ticks:'inside',ticklen:5,tickwidth:1,tickcolor:'#222',
   tickfont:{family:F,size:FS,color:'#111'}}});
 trs.push({type:'scatter',mode:'lines',x:cfg.lx,y:[cfg.line,cfg.line],xaxis:X(a),yaxis:Y(a),name:cfg.label,legend:leg,legendgroup:'a',
  line:{color:'#000',width:cfg.lw,dash:cfg.dash}});
 trs.push({type:'scatter',mode:'markers',x:cfg.bld.map(p=>p[0]),y:cfg.bld.map(p=>p[1]),xaxis:X(a),yaxis:Y(a),name:pad+'blended SNRs',legend:leg,legendgroup:'b',
  marker:{symbol:'circle-open',size:7.5,color:'#FFB6C1',line:{width:1.7,color:'#FFB6C1'}}});
 trs.push({type:'scatter',mode:'markers',x:cfg.iso.map(p=>p[0]),y:cfg.iso.map(p=>p[1]),xaxis:X(a),yaxis:Y(a),name:pad+'isolated SNRs',legend:leg,legendgroup:'c',
  marker:{symbol:'circle',size:9,color:'#ff0000',line:{width:0}}});
 const barStyle=[{color:'#BFBFBF',line:{color:'#000',width:2}},{color:'rgba(255,0,0,0.6)',line:{color:'rgba(0,0,0,0.6)',width:1.6}}];
 [lumHII,lumSNR].forEach((v,k)=>trs.push({type:'bar',x:lumBins.map(e=>e+0.1),y:v,width:0.2,xaxis:X(b),yaxis:Y(b),marker:barStyle[k],showlegend:false,hoverinfo:'skip'}));
 [cfg.sh,cfg.ss].forEach((v,k)=>trs.push({type:'bar',orientation:'h',y:cfg.sb.map(e=>e-cfg.sw/2),x:v,width:cfg.sw,xaxis:X(c),yaxis:Y(c),marker:barStyle[k],showlegend:false,hoverinfo:'skip'}));
 return trs;
}
const p1={hx:heatX1,hy:heatY1,hz:heatZ1,cb:[992,1198,127,155],lx:[35,39.8],line:siiLine,lw:2,dash:'8px,8px,3px,8px',label:siiLabel,pad:'\u00a0\u00a0\u00a0',bld:bldSII,iso:isoSII,sh:siiHII,ss:siiSNR,sb:siiBins,sw:.07};
const p2={hx:heatX2,hy:heatY2,hz:heatZ2,cb:[993,1198,1357,1385.5],lx:[35,39.9],line:oiLine,lw:3.2,dash:'18px,6px,3px,6px',label:oiLabel,pad:'\u00a0\u00a0',bld:bldOI,iso:isoOI,sh:oiHII,ss:oiSNR,sb:oiBins,sw:.1};
const data=[...panel(0,p1),...panel(1,p2)];
const lbl=(t,x,y)=>({text:t,xref:'paper',yref:'paper',x:x/W,y:(H-y)/H,xanchor:'center',yanchor:'middle',showarrow:false,font:{family:F,size:FS,color:'#111'}});
const legendDot=(cx,cy,r,open)=>({type:'circle',xref:'paper',yref:'paper',x0:(cx-r)/W,x1:(cx+r)/W,y0:(H-cy-r)/H,y1:(H-cy+r)/H,layer:'above',
  fillcolor:open?'rgba(0,0,0,0)':'#ff0000',line:{color:open?'#FFB6C1':'#ff0000',width:open?1.7:0}});
const layout={width:W,height:H,margin:{l:0,r:0,t:0,b:0,pad:0},paper_bgcolor:'#fff',plot_bgcolor:'rgba(0,0,0,0)',barmode:'overlay',showlegend:true,hovermode:false,
 xaxis:ax({domain:domX(124.5,972),range:[35,39.8],dtick:1,tick0:35,anchor:'y',ticklabelstandoff:-5,title:tf(lumTitle,17)}),
 yaxis:ax({domain:domY(291,1111),range:[-1.3,.39],tickvals:[-1.2,-1,-.8,-.6,-.4,-.2,0,.2],tickformat:'.1f',anchor:'x',title:tf('LOG ([SII]<i>λ</i>6716,6730/H<i>α</i>)',8)}),
 xaxis2:ax({domain:domX(124.5,972),range:[35,39.8],dtick:1,tick0:35,showticklabels:false,anchor:'y2'}),
 yaxis2:ax({domain:domY(17,289.4),range:[0,1.2],dtick:.2,tick0:0,tickformat:'.1f',anchor:'x2',title:tf('PDF',3)}),
 xaxis3:ax({domain:domX(973.6,1184),range:[0,3.47],dtick:1,tick0:0,anchor:'y3',ticklabelstandoff:-5,title:tf('PDF',16)}),
 yaxis3:ax({domain:domY(291,1111),range:[-1.3,.39],tickvals:[-1.2,-1,-.8,-.6,-.4,-.2,0,.2],showticklabels:false,anchor:'x3'}),
 xaxis4:ax({domain:domX(128,973),range:[35,39.9],dtick:1,tick0:35,anchor:'y4',ticklabelstandoff:-5,title:tf(lumTitle,17)}),
 yaxis4:ax({domain:domY(1533.5,2305),range:[-2.796,-.1],tickvals:[-2.5,-2,-1.5,-1,-.5],tickformat:'.1f',anchor:'x4',title:tf('LOG ([OI]<i>λ</i>6300/H<i>α</i>)',9)}),
 xaxis5:ax({domain:domX(128,973),range:[35,39.9],dtick:1,tick0:35,showticklabels:false,anchor:'y5'}),
 yaxis5:ax({domain:domY(1276,1531.9),range:[0,1.103],dtick:.5,tick0:0,tickformat:'.1f',anchor:'x5',title:tf('PDF',3)}),
 xaxis6:ax({domain:domX(974.6,1184.5),range:[0,2.205],dtick:1,tick0:0,anchor:'y6',ticklabelstandoff:-5,title:tf('PDF',16)}),
 yaxis6:ax({domain:domY(1533.5,2305),range:[-2.796,-.1],tickvals:[-2.5,-2,-1.5,-1,-.5],showticklabels:false,anchor:'x6'}),
 legend:{x:153/W,y:(H-951)/H,xanchor:'left',yanchor:'top',bgcolor:'rgba(0,0,0,0)',borderwidth:0,itemwidth:42,traceorder:'grouped',tracegroupgap:4,font:{family:F,size:FS,color:'#111'}},
 legend2:{x:149/W,y:(H-2145)/H,xanchor:'left',yanchor:'top',bgcolor:'rgba(0,0,0,0)',borderwidth:0,itemwidth:58,traceorder:'grouped',tracegroupgap:4,font:{family:F,size:FS,color:'#111'}},
 shapes:[legendDot(161,1025,3.7,true),legendDot(204,1027,3.7,true),legendDot(161,1070,4.5,false),legendDot(204,1071,4.5,false)],
 annotations:[lbl('HII regions:',1095,215),lbl('log(N)',1095,250),lbl('HII regions:',1095,1450),lbl('log(N)',1095,1483)]
};
Plotly.newPlot('c',data,layout,{staticPlot:true,displayModeBar:false});
</script></body></html>
